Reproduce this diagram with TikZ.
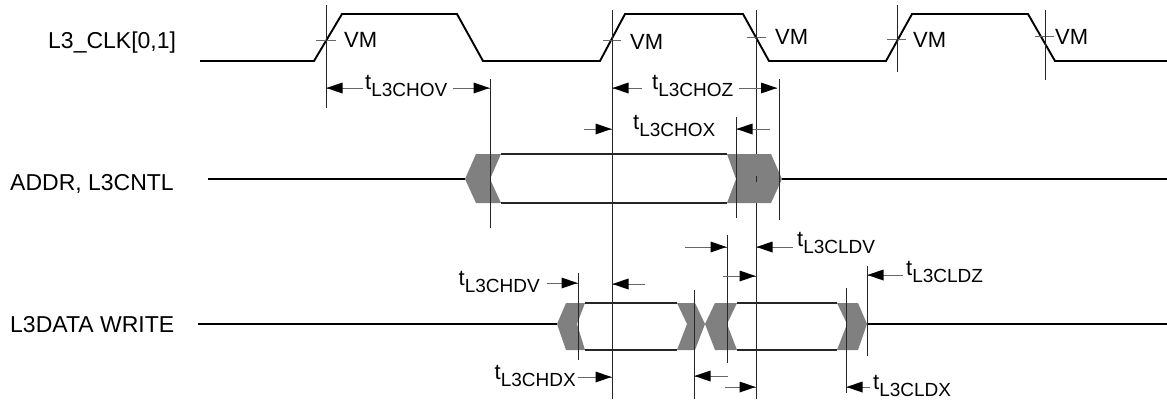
\documentclass[tikz,border=0pt]{standalone}
\usepackage{fontspec}
\setmainfont{Liberation Sans}
\newcommand\tlab[1]{t\raisebox{-7pt}{\fontsize{19}{19}\selectfont #1}}
% dimension arrow: tail x, tip x, y, direction (+1 right, -1 left)
\newcommand\darr[4]{%
  \draw[dimline] (#1,#3)--(#2,#3);
  \fill[black] (#2,#3) -- ++({-16*(#4)},-5.5) -- ++(0,11) -- cycle;}
\begin{document}
\begin{tikzpicture}[x=1pt,y=-1pt,
  sig/.style={line width=1.3pt,black},
  clk/.style={line width=1.9pt,black,line join=miter},
  vline/.style={line width=1pt,black!85},
  tick/.style={line width=0.9pt,black!60},
  dimline/.style={line width=1pt,black!60},
  busfill/.style={fill=black!50,draw=none},
  lbl/.style={font=\fontsize{23}{23}\selectfont,anchor=base west,inner sep=0pt},
  vm/.style={font=\fontsize{22}{22}\selectfont,anchor=west,inner sep=0pt},
  tw/.style={font=\fontsize{22}{22}\selectfont,anchor=base west,inner sep=0pt},
  te/.style={font=\fontsize{22}{22}\selectfont,anchor=base east,inner sep=0pt},
]
\useasboundingbox (0,0) rectangle (1167,399);

% signal labels
\node[lbl] (lclk) at (48,48) {L3\_CLK[0,1]};
\node[lbl] (laddr) at (10,190) {ADDR, L3CNTL};
\node[lbl] (ldata) at (10,332) {L3DATA WRITE};

% clock
\draw[clk] (200,61)--(314,61)--(342,14)--(457,14)--(483,61)--(600,61)--(625,14)--(743,14)--(769,61)--(886,61)--(912,14)--(1028,14)--(1055,61)--(1167,61);

% VM ticks
\draw[tick] (316,40)--(336,40);
\draw[tick] (603,40)--(621,40);
\draw[tick] (747,37)--(766,37);
\draw[tick] (887,39)--(906,39);
\draw[tick] (1035,36)--(1054,36);
\node[vm] (vm1) at (344,40) {VM};
\node[vm] (vm2) at (630,42) {VM};
\node[vm] (vm3) at (775,37) {VM};
\node[vm] (vm4) at (913,40) {VM};
\node[vm] (vm5) at (1055,37) {VM};

% ADDR bus
\draw[sig] (208,179)--(465,179);
\draw[sig] (782,179)--(1167,179);
\fill[busfill] (465,179)--(476,154)--(501,154)--(490,179)--(501,203)--(476,203)--cycle;
\fill[busfill] (727,154)--(771,154)--(782,179)--(771,203)--(727,203)--(736,179)--cycle;
\draw[sig,black!85] (501,154)--(727,154) (501,203)--(727,203);

% DATA bus
\draw[sig] (198,324)--(557,324);
\draw[sig] (867,324)--(1167,324);
\fill[busfill] (557,324)--(566,303)--(585,303)--(577,324)--(585,350)--(566,350)--cycle;
\fill[busfill] (677,303)--(695,303)--(705,324)--(695,350)--(677,350)--(687,324)--cycle;
\fill[busfill] (705,324)--(715,303)--(737,303)--(727,324)--(737,350)--(715,350)--cycle;
\fill[busfill] (837,303)--(858,303)--(867,324)--(858,350)--(837,350)--(847,324)--cycle;
\draw[sig,black!85] (585,303)--(677,303) (585,350)--(677,350);
\draw[sig,black!85] (737,303)--(837,303) (737,350)--(837,350);

% vertical reference lines
\draw[vline] (326,5)--(326,108);
\draw[vline] (612,10)--(612,399);
\draw[vline] (756,10)--(756,154) (756,176)--(756,182) (756,203)--(756,399);
\draw[vline] (897,5)--(897,72);
\draw[vline] (1045,10)--(1045,80);
\draw[vline] (490,79)--(490,228);
\draw[vline] (779,79)--(779,220);
\draw[vline] (736,117)--(736,218);
\draw[vline] (578,273)--(578,360);
\draw[vline] (694,290)--(694,399);
\draw[vline] (727,235)--(727,363);
\draw[vline] (867,266)--(867,356);
\draw[vline] (846,288)--(846,393);

% dimension arrows
\darr{363}{326.5}{88}{-1}
\darr{453}{489.5}{88}{1}
\darr{642}{612.5}{88}{-1}
\darr{739}{777}{88}{1}
\darr{584}{611.5}{129}{1}
\darr{770}{736.5}{129}{-1}
\darr{547}{577.5}{283}{1}
\darr{645}{612.5}{284}{-1}
\darr{685}{726.5}{247}{1}
\darr{793}{756.5}{247}{-1}
\darr{723}{755.5}{276}{1}
\darr{903}{867.5}{275}{-1}
\darr{578}{611.5}{377}{1}
\darr{728}{694.5}{376}{-1}
\darr{725}{755.5}{387}{1}
\darr{870}{846.5}{387}{-1}

% timing labels
\node[tw] (tchov) at (365,89) {\tlab{L3CHOV}};
\node[tw] (tchoz) at (652,89) {\tlab{L3CHOZ}};
\node[tw] (tchox) at (633,129) {\tlab{L3CHOX}};
\node[te] (tchdv) at (540,285) {\tlab{L3CHDV}};
\node[tw] (tcldv) at (797,246) {\tlab{L3CLDV}};
\node[tw] (tcldz) at (906,275) {\tlab{L3CLDZ}};
\node[te] (tchdx) at (576,379) {\tlab{L3CHDX}};
\node[tw] (tcldx) at (873,389) {\tlab{L3CLDX}};
\end{tikzpicture}
\end{document}
